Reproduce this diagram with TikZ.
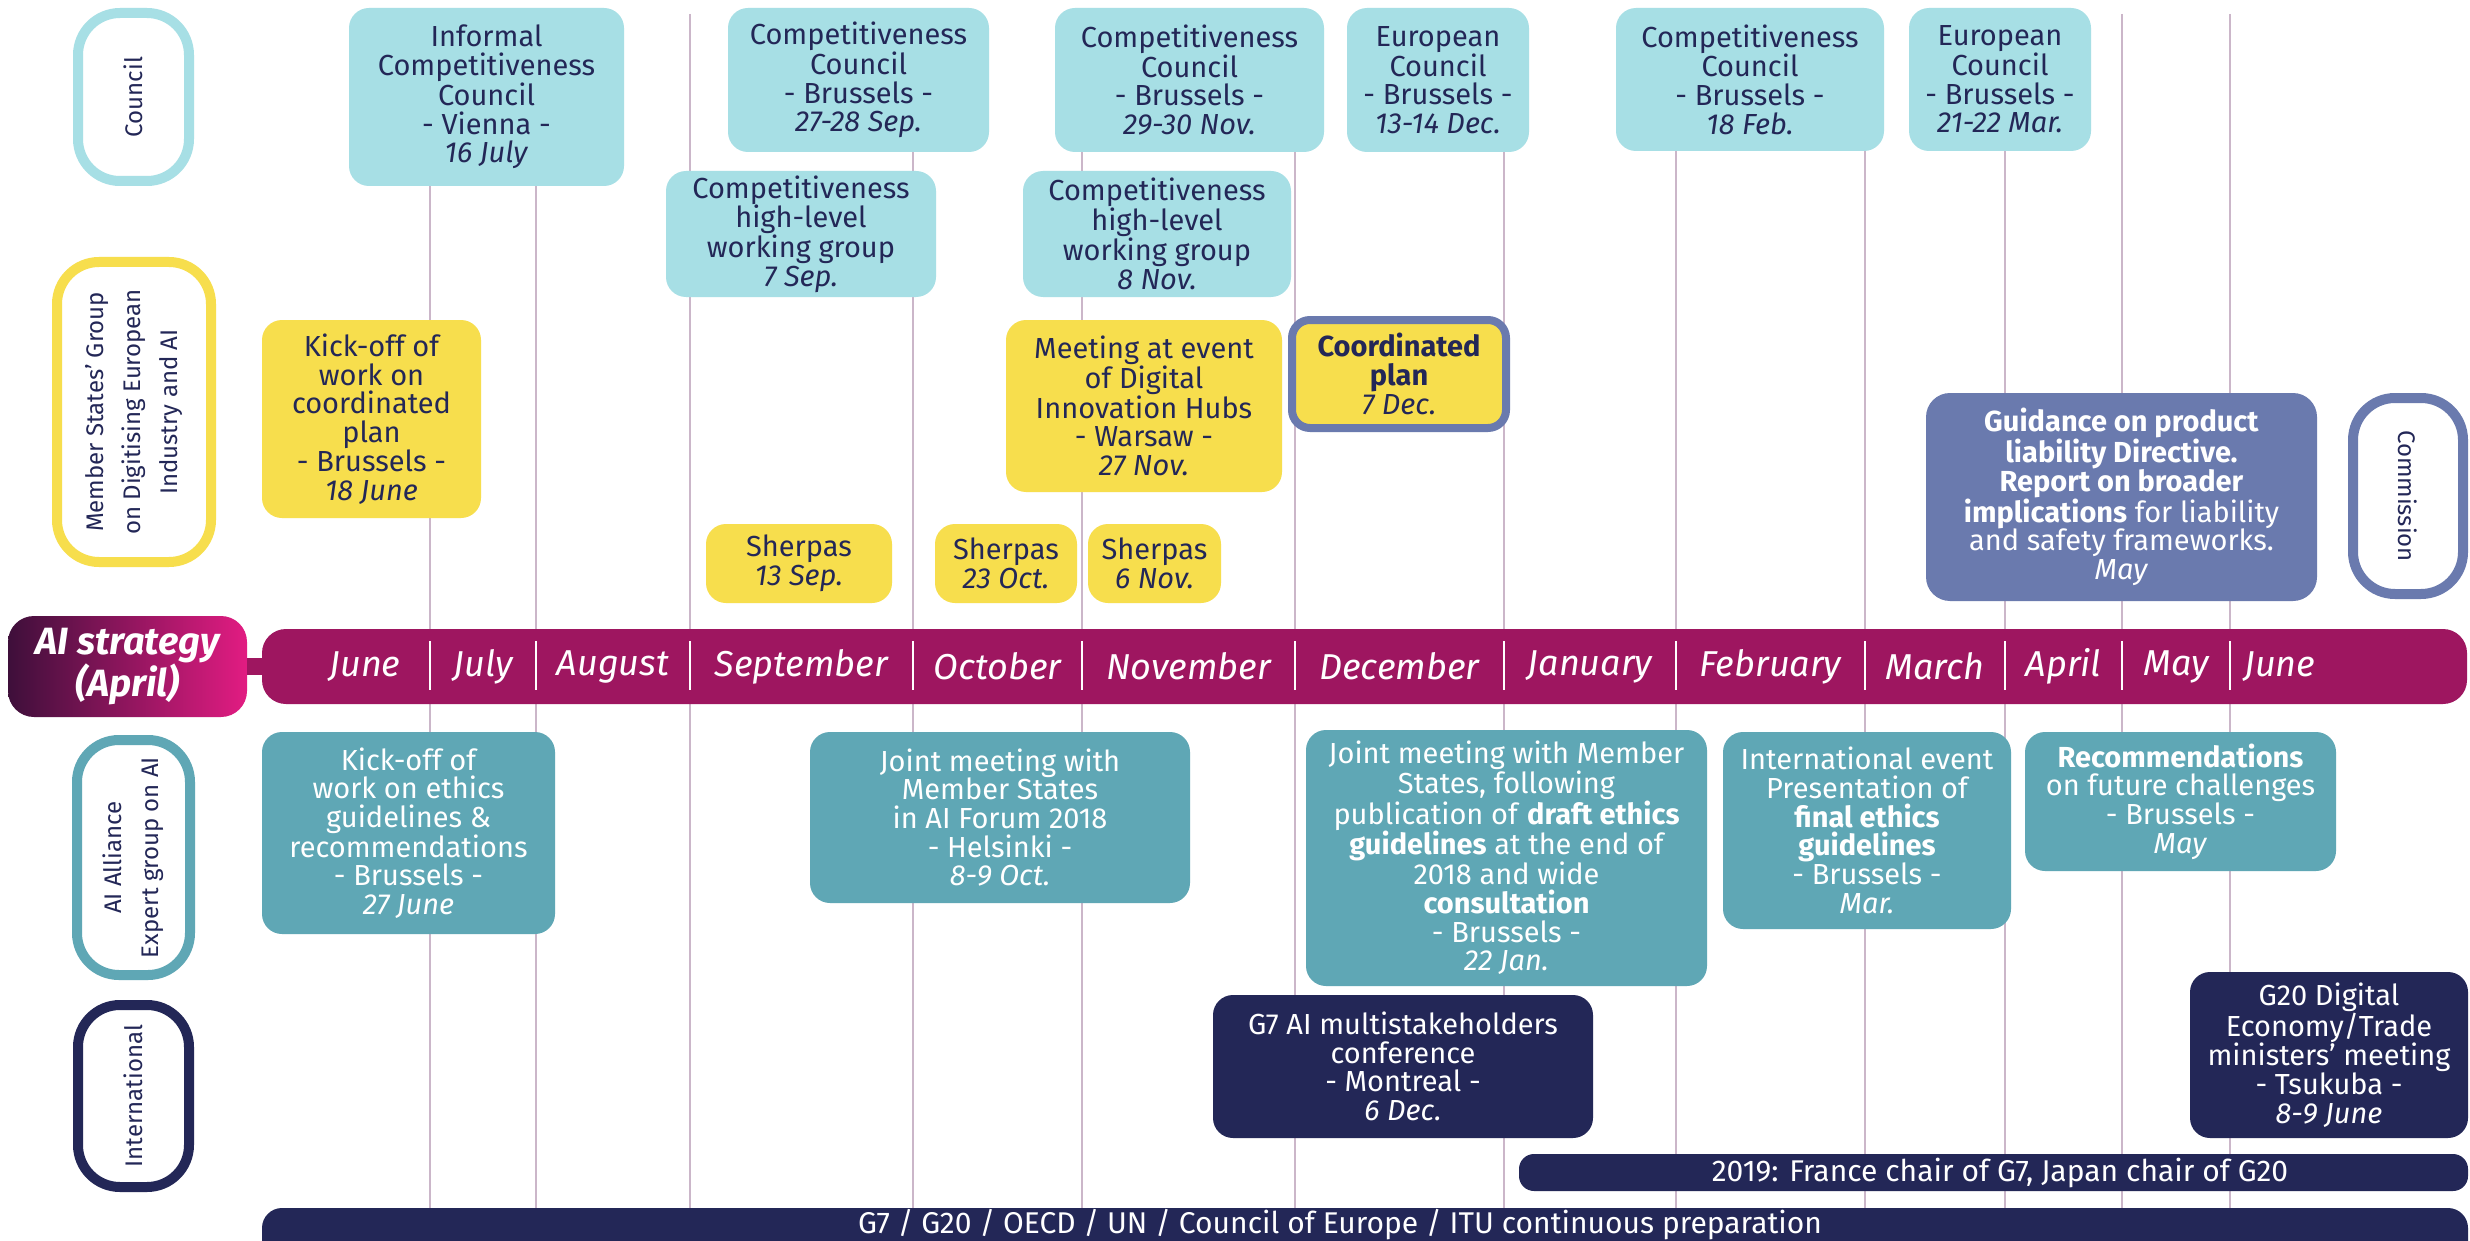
\documentclass[tikz,border=0pt]{standalone}
\usepackage{fontspec}
\setmainfont{Fira Sans}
\definecolor{cyanC}{RGB}{167,223,229}
\definecolor{yelC}{RGB}{247,222,77}
\definecolor{tealC}{RGB}{95,167,181}
\definecolor{navyC}{RGB}{35,39,87}
\definecolor{comC}{RGB}{106,122,174}
\definecolor{magC}{RGB}{158,22,96}
\definecolor{aiL}{RGB}{62,15,58}
\definecolor{aiR}{RGB}{226,28,130}
\definecolor{lineC}{RGB}{203,182,201}
\definecolor{txtC}{RGB}{35,39,87}
\tikzset{
  ev/.style={rounded corners=20pt, inner sep=0pt, outer sep=0pt, align=center,
    font={\fontsize{29}{28.7}\selectfont}},
  cyanbox/.style={ev, fill=cyanC, text=txtC},
  yelbox/.style={ev, fill=yelC, text=txtC},
  tealbox/.style={ev, fill=tealC, text=white},
  navybox/.style={ev, fill=navyC, text=white},
  combox/.style={ev, fill=comC, text=white, rounded corners=24pt},
  lblbox/.style={rounded corners=42pt, line width=10pt, fill=white, inner sep=0pt,
    outer sep=0pt, align=center, text=txtC, font={\fontsize{24}{37}\selectfont}},
  mline/.style={lineC, line width=2pt},
  sepline/.style={white, line width=2pt},
  month/.style={text=white, font={\fontsize{36}{40}\selectfont\itshape}, inner sep=0pt},
  bartext/.style={text=white, inner sep=0pt, font={\fontsize{30}{30}\selectfont}}
}
\begin{document}
\begin{tikzpicture}[x=1pt,y=-1pt]
\clip (0,0) rectangle (2470,1241);
\fill[white] (0,0) rectangle (2470,1241);
% month grid lines
\foreach \xx in {430,536,690,913,1082,1295,1504,1676,1865,2005,2122,2230}
  \draw[mline] (\xx,14) -- (\xx,1208);

% left labels
\node[lblbox, draw=cyanC, minimum width=168, minimum height=111, rotate=90] (council) at (133.5,97) {Council};
\node[lblbox, draw=yelC, minimum width=300, minimum height=154, rotate=90] (msg) at (134,412) {Member States' Group\\on Digitising European\\Industry and AI};
\node[lblbox, draw=tealC, minimum width=235, minimum height=113, rotate=90] (alliance) at (133.5,857.5) {AI Alliance\\Expert group on AI};
\node[lblbox, draw=navyC, minimum width=182, minimum height=111, rotate=90] (intl) at (133.5,1096) {International};
\node[lblbox, draw=comC, minimum width=196, minimum height=110, rotate=-90] (commission) at (2408,496) {Commission};

% timeline
\node[rounded corners=26pt, left color=aiL, right color=aiR, minimum width=239, minimum height=101,
  inner sep=0pt, outer sep=0pt, align=center, text=white,
  font={\fontsize{38}{40}\selectfont\bfseries\itshape}] (ai) at (127.5,666.5) {AI strategy\\(April)};
\node[fill=magC, rounded corners=24pt, minimum width=2205, minimum height=75, inner sep=0pt, outer sep=0pt] (bar) at (1364.5,666.5) {};
\draw[magC, line width=17pt] (ai.east) -- (bar.west);
\foreach \xx in {430,536,690,913,1082,1295,1504,1676,1865,2005,2122,2230}
  \draw[sepline] (\xx,641) -- (\xx,690);
\node[month] (m1) at (365,666.5) {June};
\node[month] (m2) at (483,666.5) {July};
\node[month] (m3) at (613,666.5) {August};
\node[month] (m4) at (801.5,666.5) {September};
\node[month] (m5) at (997.5,666.5) {October};
\node[month] (m6) at (1188.5,666.5) {November};
\node[month] (m7) at (1399.5,666.5) {December};
\node[month] (m8) at (1590,666.5) {January};
\node[month] (m9) at (1770.5,666.5) {February};
\node[month] (m10) at (1935,666.5) {March};
\node[month] (m11) at (2063.5,666.5) {April};
\node[month] (m12) at (2176,666.5) {May};
\node[month, anchor=west] (m13) at (2244,666.5) {June};

% council row
\node[cyanbox, minimum width=275, minimum height=178] (e1) at (486.5,97) {Informal\\Competitiveness\\Council\\- Vienna -\\\textit{16 July}};
\node[cyanbox, minimum width=261, minimum height=144] (e2) at (858.5,80) {Competitiveness\\Council\\- Brussels -\\\textit{27-28 Sep.}};
\node[cyanbox, minimum width=269, minimum height=144] (e3) at (1189.5,80) {Competitiveness\\Council\\- Brussels -\\\textit{29-30 Nov.}};
\node[cyanbox, minimum width=182, minimum height=144] (e4) at (1438,80) {European\\Council\\- Brussels -\\\textit{13-14 Dec.}};
\node[cyanbox, minimum width=268, minimum height=143] (e5) at (1750,79.5) {Competitiveness\\Council\\- Brussels -\\\textit{18 Feb.}};
\node[cyanbox, minimum width=182, minimum height=143] (e6) at (2000,79.5) {European\\Council\\- Brussels -\\\textit{21-22 Mar.}};
\node[cyanbox, minimum width=270, minimum height=126] (e7) at (801,234) {Competitiveness\\high-level\\working group\\\textit{7 Sep.}};
\node[cyanbox, minimum width=268, minimum height=126] (e8) at (1157,234) {Competitiveness\\high-level\\working group\\\textit{8 Nov.}};

% member states row
\node[yelbox, minimum width=219, minimum height=198] (e9) at (371.5,419) {Kick-off of\\work on\\coordinated\\plan\\- Brussels -\\\textit{18 June}};
\node[yelbox, minimum width=276, minimum height=172] (e10) at (1144,406) {Meeting at event\\of Digital\\Innovation Hubs\\- Warsaw -\\\textit{27 Nov.}};
\node[yelbox, draw=comC, line width=8pt, rounded corners=18pt, minimum width=214, minimum height=108] (e11) at (1399,374) {\textbf{Coordinated}\\\textbf{plan}\\\textit{7 Dec.}};
\node[yelbox, minimum width=186, minimum height=79] (e12) at (799,563.5) {Sherpas\\\textit{13 Sep.}};
\node[yelbox, minimum width=142, minimum height=79] (e13) at (1006,563.5) {Sherpas\\\textit{23 Oct.}};
\node[yelbox, minimum width=133, minimum height=79] (e14) at (1154.5,563.5) {Sherpas\\\textit{6 Nov.}};

% commission
\node[combox, minimum width=391, minimum height=208] (e15) at (2121.5,497) {\textbf{Guidance on product}\\\textbf{liability Directive.}\\\textbf{Report on broader}\\\textbf{implications} for liability\\and safety frameworks.\\\textit{May}};

% AI alliance row
\node[tealbox, minimum width=293, minimum height=202] (e16) at (408.5,833) {Kick-off of\\work on ethics\\guidelines \&\\recommendations\\- Brussels -\\\textit{27 June}};
\node[tealbox, minimum width=380, minimum height=171] (e17) at (1000,817.5) {Joint meeting with\\Member States\\in AI Forum 2018\\- Helsinki -\\\textit{8-9 Oct.}};
\node[tealbox, minimum width=401, minimum height=256] (e18) at (1506.5,858) {Joint meeting with Member\\States, following\\publication of \textbf{draft ethics}\\\textbf{guidelines} at the end of\\2018 and wide\\\textbf{consultation}\\- Brussels -\\\textit{22 Jan.}};
\node[tealbox, minimum width=288, minimum height=197] (e19) at (1867,830.5) {International event\\Presentation of\\\textbf{final ethics}\\\textbf{guidelines}\\- Brussels -\\\textit{Mar.}};
\node[tealbox, minimum width=311, minimum height=139] (e20) at (2180.5,801.5) {\textbf{Recommendations}\\on future challenges\\- Brussels -\\\textit{May}};

% international row
\node[navybox, minimum width=380, minimum height=143] (e21) at (1403,1066.5) {G7 AI multistakeholders\\conference\\- Montreal -\\\textit{6 Dec.}};
\node[navybox, minimum width=278, minimum height=166] (e22) at (2329,1055) {G20 Digital\\Economy/Trade\\ministers' meeting\\- Tsukuba -\\\textit{8-9 June}};
\node[navybox, rounded corners=15pt, minimum width=949, minimum height=37] (e23) at (1993.5,1172.5) {};
\node[bartext] (t23) at (2000,1172.5) {2019: France chair of G7, Japan chair of G20};
\node[navybox, rounded corners=20pt, minimum width=2206, minimum height=70] (e24) at (1365,1243) {};
\node[bartext] (t24) at (1340,1225) {G7 / G20 / OECD / UN / Council of Europe / ITU continuous preparation};
\end{tikzpicture}
\end{document}
